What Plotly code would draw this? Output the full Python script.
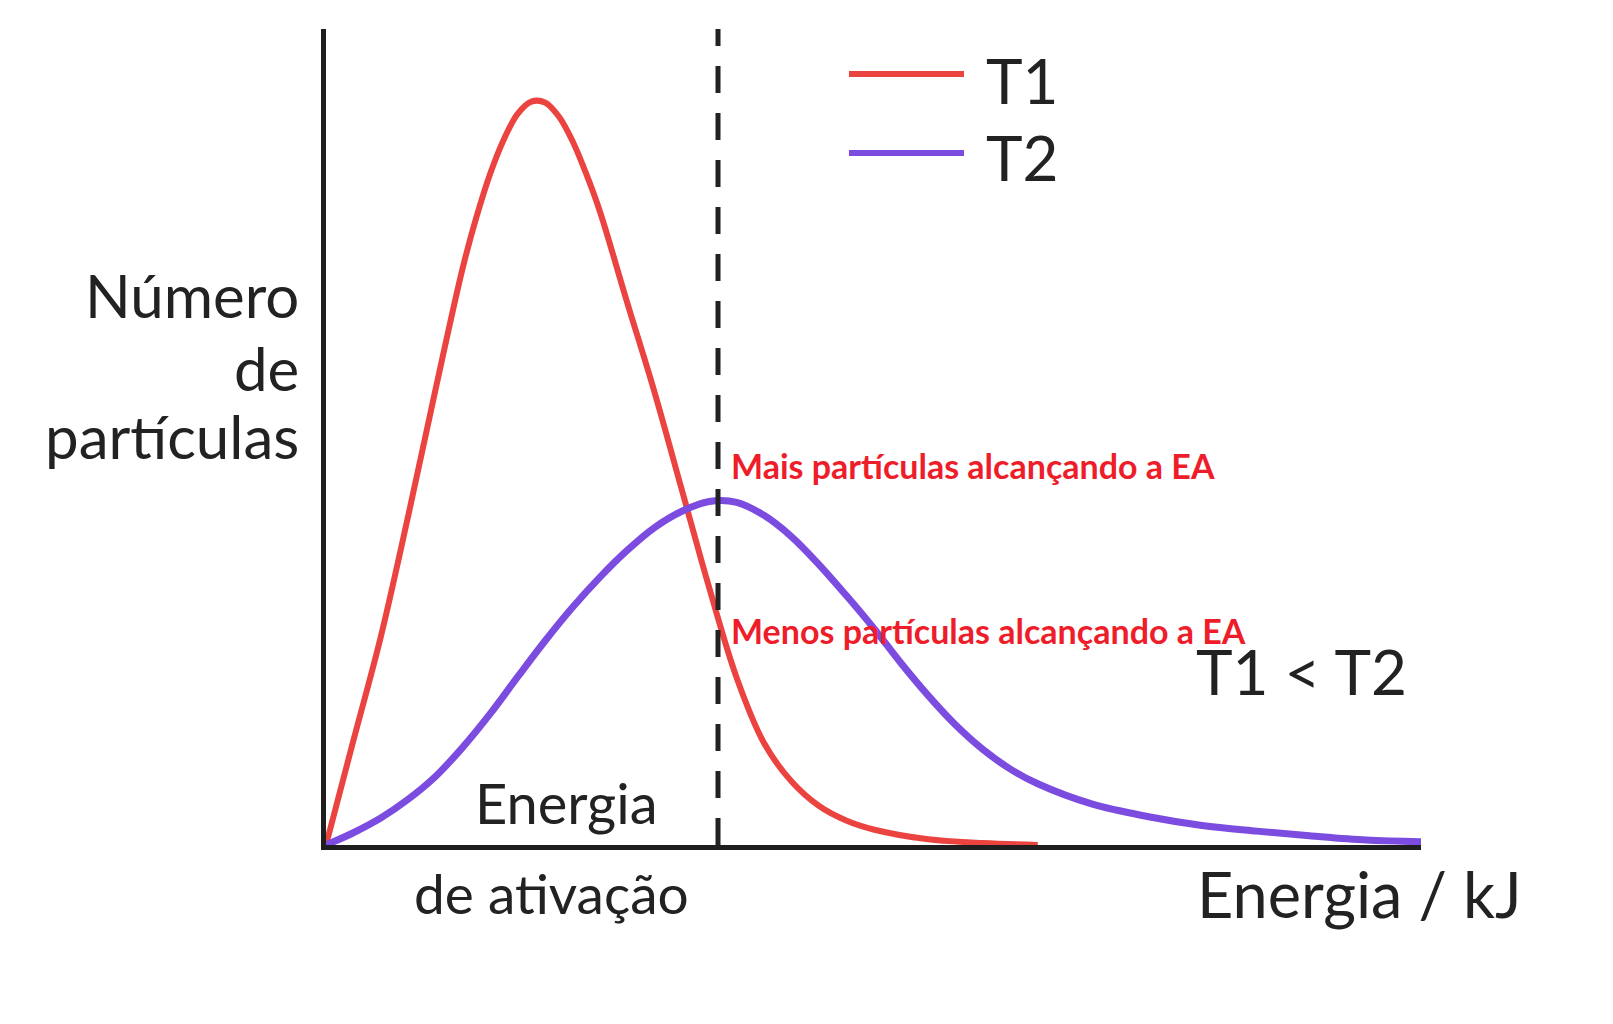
import plotly.graph_objects as go

# Energy (arbitrary units) and number of particles
energy_t1 = [0.0, 0.25, 0.5, 0.75, 1.0, 1.25, 1.375, 1.5, 1.625, 1.75, 1.875, 2.0,
             2.125, 2.25, 2.375, 2.5, 2.75, 3.0, 3.25, 3.5, 3.75, 4.0, 4.25, 4.5,
             4.75, 5.0, 5.5, 6.0, 6.5]
particles_t1 = [0.0, 12.8, 25.5, 40.3, 55.8, 70.8, 77.0, 82.3, 86.5, 89.6, 91.1, 91.0,
                89.3, 86.3, 82.3, 77.7, 66.5, 55.5, 43.5, 31.5, 20.5, 12.5, 7.8, 4.8,
                3.0, 1.9, 0.7, 0.25, 0.0]

energy_t2 = [0.0, 0.25, 0.5, 0.75, 1.0, 1.25, 1.5, 1.75, 2.0, 2.25, 2.5, 2.75, 3.0,
             3.25, 3.5, 3.75, 4.0, 4.25, 4.5, 4.75, 5.0, 5.25, 5.5, 5.75, 6.0, 6.25,
             6.5, 7.0, 7.5, 8.0, 8.5, 9.0, 9.5, 10.0]
particles_t2 = [0.0, 1.5, 3.3, 5.6, 8.4, 12.0, 16.1, 20.6, 25.0, 29.1, 32.8, 36.1, 38.9,
                40.9, 42.1, 42.0, 40.4, 37.8, 34.4, 30.6, 26.6, 22.3, 18.3, 14.7, 11.7, 9.3,
                7.5, 5.0, 3.5, 2.4, 1.7, 1.1, 0.6, 0.4]

series_names = ['T1', 'T2']
activation_energy = 3.58

# Colours
RED = '#EA4340'
PURPLE = '#7B4CDF'
INK = '#222222'
LABEL_RED = '#EE1D2A'
FONT = 'Lato'

# Page / plot area in pixels
W, H = 1613, 1024
LEFT, RIGHT, TOP, BOTTOM = 318, 1413, 21, 837
# the text positions below were measured with this offset
DX, DY = -7, -8


def px_x(px):
    """pixel column -> paper x"""
    return (px + DX - LEFT) / (RIGHT - LEFT)


def px_y(py):
    """pixel row -> paper y"""
    return (BOTTOM - (py + DY)) / (BOTTOM - TOP)


def text(label, x, y, size, xanchor='left', color=INK, weight=None):
    font = dict(family=FONT, size=size, color=color)
    if weight:
        font['weight'] = weight
    return dict(text=label, x=px_x(x), y=px_y(y), xref='paper', yref='paper',
                xanchor=xanchor, yanchor='middle', showarrow=False, font=font)


fig = go.Figure()

fig.add_trace(go.Scatter(x=energy_t1, y=particles_t1, name=series_names[0], mode='lines',
                         line=dict(color=RED, width=6, shape='spline', smoothing=1.0),
                         cliponaxis=False))
fig.add_trace(go.Scatter(x=energy_t2, y=particles_t2, name=series_names[1], mode='lines',
                         line=dict(color=PURPLE, width=7, shape='spline', smoothing=1.0),
                         cliponaxis=False))
# activation energy marker
fig.add_trace(go.Scatter(x=[activation_energy, activation_energy], y=[0, 100], mode='lines',
                         line=dict(color=INK, width=5, dash='27px,20px'),
                         showlegend=False, cliponaxis=False))

# hand-made legend (long line keys like the original)
shapes = []
for row, color in zip([74, 153], [RED, PURPLE]):
    shapes.append(dict(type='line', xref='paper', yref='paper',
                       x0=px_x(848), x1=px_x(963), y0=px_y(row), y1=px_y(row),
                       line=dict(color=color, width=6)))

annotations = [
    text(series_names[0], 983, 80, 62),
    text(series_names[1], 983, 157, 62),
    text('Número', 300, 295, 60, xanchor='right'),
    text('de', 300, 368, 60, xanchor='right'),
    text('partículas', 300, 436, 60, xanchor='right'),
    text('Energia', 565, 802, 56, xanchor='center'),
    text('de ativação', 550, 893, 55, xanchor='center'),
    text('Energia / kJ', 1194, 893, 63),
    text('T1 &lt; T2', 1193, 671, 62),
    text('Mais partículas alcançando a EA', 728, 465, 34, color=LABEL_RED, weight='bold'),
    text('Menos partículas alcançando a EA', 728, 630, 34, color=LABEL_RED, weight='bold'),
]

fig.update_layout(
    width=W, height=H,
    margin=dict(l=LEFT, r=W - RIGHT, t=TOP, b=H - BOTTOM),
    paper_bgcolor='white', plot_bgcolor='white',
    showlegend=False,
    shapes=shapes,
    annotations=annotations,
)
fig.update_xaxes(range=[0, 10], showline=True, linecolor='#1E1E1E', linewidth=5,
                 showgrid=False, zeroline=False, showticklabels=False, ticks='')
fig.update_yaxes(range=[0, 100], showline=True, linecolor='#1E1E1E', linewidth=5,
                 showgrid=False, zeroline=False, showticklabels=False, ticks='')

fig.write_html('out.html')
